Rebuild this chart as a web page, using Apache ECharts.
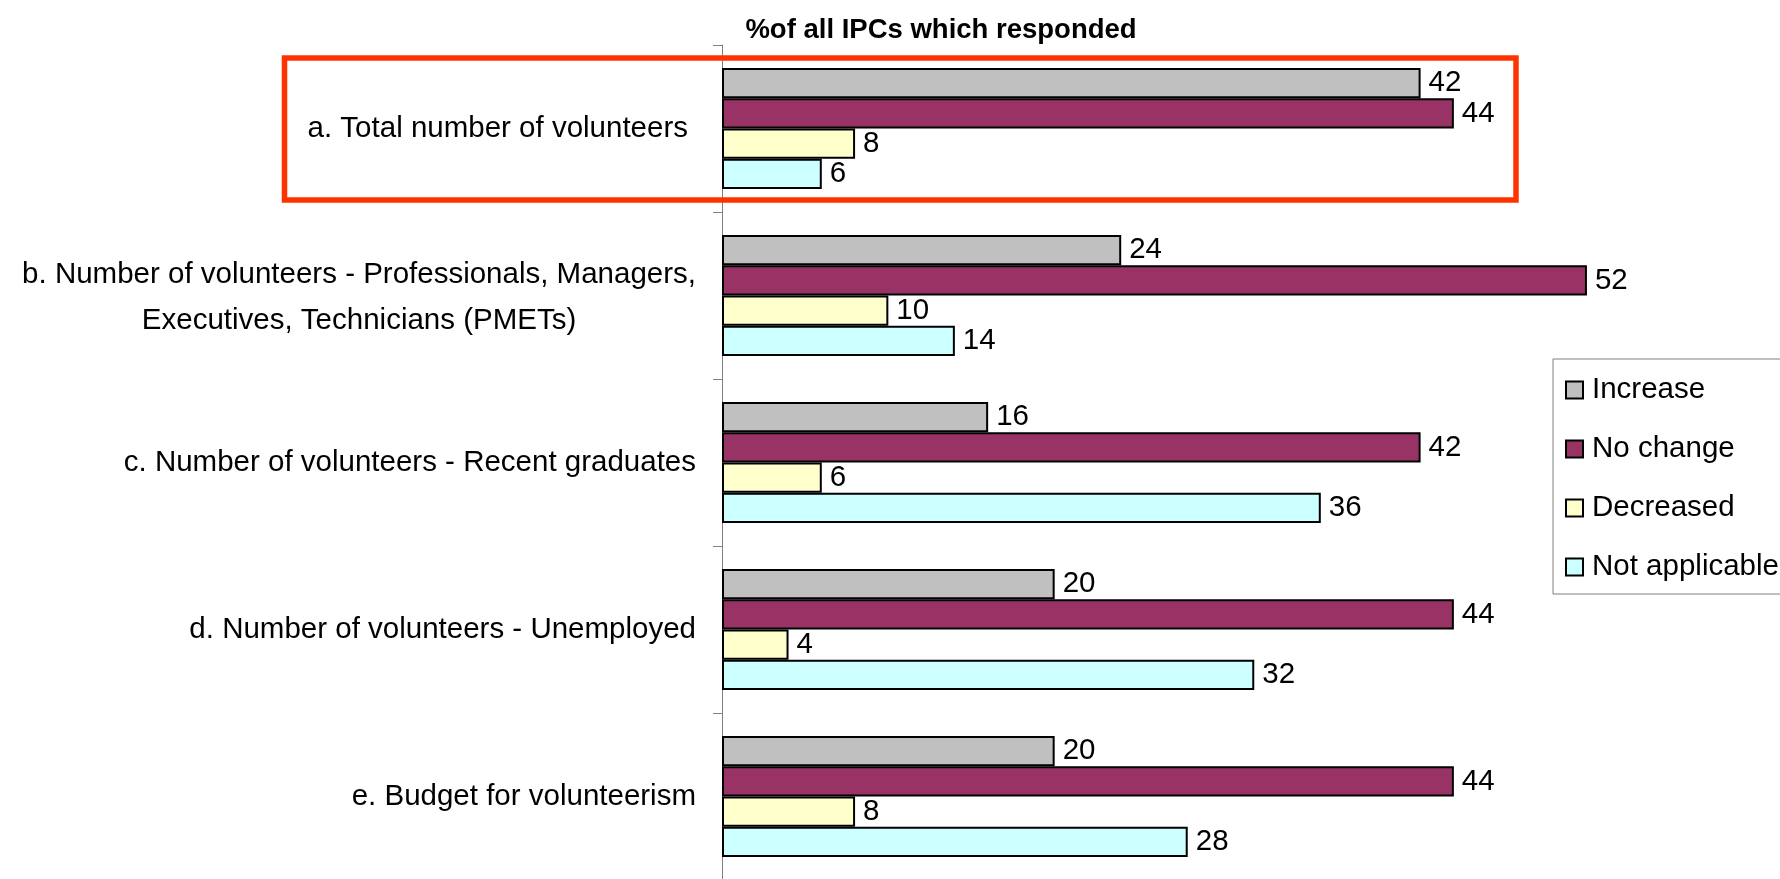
<!DOCTYPE html>
<html>
<head>
<meta charset="utf-8">
<script src="https://cdn.jsdelivr.net/npm/echarts@6/dist/echarts.min.js"></script>
<style>
html,body{margin:0;padding:0;background:#fff;}
#chart{width:1780px;height:879px;}
</style>
</head>
<body>
<div id="chart"></div>
<script>
const titleText = '%of all IPCs which responded';
const categories = [
  'a. Total number of volunteers',
  'b. Number of volunteers - Professionals, Managers,\nExecutives, Technicians (PMETs)',
  'c. Number of volunteers - Recent graduates',
  'd. Number of volunteers - Unemployed',
  'e. Budget for volunteerism'
];
const seriesNames = ['Increase', 'No change', 'Decreased', 'Not applicable'];
const increase = [42, 24, 16, 20, 20];
const noChange = [44, 52, 42, 44, 44];
const decreased = [8, 10, 6, 4, 8];
const notApplicable = [6, 14, 36, 32, 28];
const colors = ['#C0C0C0', '#993366', '#FFFFCC', '#CCFFFF'];

const FONT = "'Liberation Sans', Arial, sans-serif";
const FS = 29.5;

const ctx = document.createElement('canvas').getContext('2d');
ctx.font = FS + 'px ' + FONT;
function maxLineWidth(s) {
  return Math.max(...s.split('\n').map(l => ctx.measureText(l).width));
}

const chart = echarts.init(document.getElementById('chart'), null, {renderer: 'canvas'});
const allSeries = [increase, noChange, decreased, notApplicable].map((d, i) => ({
  name: seriesNames[i],
  type: 'bar',
  data: d,
  barGap: '0%',
  barCategoryGap: '27.5%',
  itemStyle: {color: colors[i], borderColor: '#000', borderWidth: 2},
  label: {show: true, position: 'right', distance: 8, color: '#000', fontFamily: FONT, fontSize: FS},
  emphasis: {disabled: true}
}));

const yData = categories.map((c, i) => i === 0 ? {value: c, textStyle: {padding: [0, 8, 0, 0]}} : c);

chart.setOption({
  animation: false,
  backgroundColor: '#fff',
  title: {
    text: titleText,
    left: 936, top: 11, textAlign: 'center',
    textStyle: {fontFamily: FONT, fontSize: 27.5, fontWeight: 'bold', color: '#000'}
  },
  grid: {left: 722, top: 45, width: 998, height: 835, outerBoundsMode: 'none', containLabel: false},
  xAxis: {type: 'value', min: 0, max: 60, show: false},
  yAxis: {
    type: 'category', inverse: true, data: yData,
    axisLine: {show: true, lineStyle: {color: '#808080', width: 1}},
    axisTick: {show: true, length: 9, lineStyle: {color: '#808080'}},
    axisLabel: {
      margin: 26, color: '#000', fontFamily: FONT, fontSize: FS,
      formatter: function (v) {
        if (v.indexOf('\n') < 0) return v;
        return v.split('\n').map(l => '{c|' + l + '}').join('\n');
      },
      rich: {c: {width: maxLineWidth(categories[1]), align: 'center', fontFamily: FONT, fontSize: FS, lineHeight: 46, color: '#000', padding: [4, 0, 0, 0]}}
    }
  },
  legend: {
    orient: 'vertical', left: 1553, top: 359,
    data: seriesNames,
    icon: 'rect', itemWidth: 17, itemHeight: 17, itemGap: 23,
    padding: [13, 10, 9, 12],
    borderColor: '#808080', borderWidth: 1, backgroundColor: '#fff',
    textStyle: {fontFamily: FONT, fontSize: FS, color: '#000', lineHeight: 36, padding: [0, 0, 0, 4]}
  },
  graphic: [{
    type: 'rect', z: 100,
    shape: {x: 284.5, y: 58, width: 1231.5, height: 142},
    style: {fill: 'none', stroke: '#FF3300', lineWidth: 5.5}
  }],
  series: allSeries
});
</script>
</body>
</html>
